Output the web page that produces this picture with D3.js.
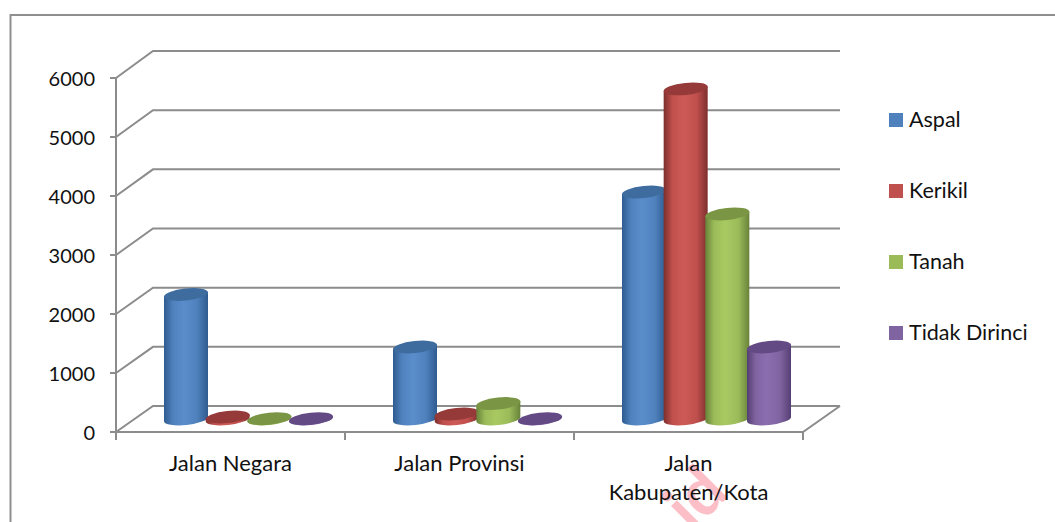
<!DOCTYPE html>
<html><head><meta charset="utf-8">
<script src="https://cdn.jsdelivr.net/npm/d3@7/dist/d3.min.js"></script>
<style>html,body{margin:0;padding:0;background:#fff}svg{display:block}text{font-family:Lato,"Open Sans",sans-serif;fill:#111}</style>
</head><body><svg id="c" width="1055" height="522"></svg>
<script>
const categories=[["Jalan Negara"],["Jalan Provinsi"],["Jalan","Kabupaten/Kota"]];
const categoryKeys=["Jalan Negara","Jalan Provinsi","Jalan Kabupaten/Kota"];
const seriesNames=["Aspal","Kerikil","Tanah","Tidak Dirinci"];
const aspal=[2116,1224,3858];
const kerikil=[34,85,5610];
const tanah=[5,263,3485];
const tidakDirinci=[5,5,1224];
const seriesValues=[aspal,kerikil,tanah,tidakDirinci];
const yTicks=[0,1000,2000,3000,4000,5000,6000];
const colors=[
 {main:"#4f81bd",light:"#5a8dcb",dark:"#2f5b8f",top:"#3f6c9f"},
 {main:"#c0504d",light:"#cd5a57",dark:"#7d2f2d",top:"#953a38"},
 {main:"#9bbb59",light:"#a8c962",dark:"#68833a",top:"#7a9645"},
 {main:"#8064a2",light:"#8b6eaf",dark:"#553f72",top:"#644a85"}];

const svg=d3.select("#c");
const axisColor="#8c8c8c";
const yFront=d3.scaleLinear().domain([0,6000]).range([432,78]);
const yBack=d3.scaleLinear().domain([0,6000]).range([406,51]);
const yBar=d3.scaleLinear().domain([0,6000]).range([419,66]);
const x=d3.scaleBand().domain(categoryKeys).range([116,803]);
const xs=d3.scalePoint().domain(seriesNames).range([-62.5,62.5]);
const depth={x:37,xBar:18};

// watermark
svg.append("text").attr("transform","translate(692,533) rotate(-45)").attr("font-size",66).attr("font-weight",700)
 .style("fill","#fcbfc8").text("id");

// frame
svg.append("path").attr("d","M10.5,522V15H1055").attr("fill","none").attr("stroke","#8f8f8f").attr("stroke-width",2);

// gradients
const defs=svg.append("defs");
colors.forEach((c,i)=>{
 const g=defs.append("linearGradient").attr("id","g"+i);
 [[0,c.dark],[.2,c.main],[.45,c.light],[.75,c.main],[1,c.dark]].forEach(s=>g.append("stop").attr("offset",s[0]).attr("stop-color",s[1]));
});

// back wall grid and side wall
const grid=svg.append("g").attr("fill","none").attr("stroke",axisColor).attr("stroke-width",2);
yTicks.forEach(v=>{
 grid.append("path").attr("d",`M${x.range()[0]},${yFront(v)}L${x.range()[0]+depth.x},${yBack(v)}H${x.range()[1]+depth.x}`);
 grid.append("path").attr("d",`M${x.range()[0]-6},${yFront(v)}H${x.range()[0]}`);
});
grid.append("path").attr("d",`M${x.range()[0]},${yFront(6000)}V${yFront(0)}H${x.range()[1]}L${x.range()[1]+depth.x},${yBack(0)}`);
[...categoryKeys.map(k=>x(k)),x.range()[1]].forEach(px=>grid.append("path").attr("d",`M${px},${yFront(0)}V440`));

// y labels
svg.append("g").selectAll("text").data(yTicks).join("text")
 .attr("x",95).attr("y",v=>yFront(v)+8).attr("text-anchor","end").attr("font-size",20).text(v=>v);

// category labels
categories.forEach((lines,i)=>{
 lines.forEach((t,j)=>svg.append("text").attr("x",x(categoryKeys[i])+x.bandwidth()/2).attr("y",471+j*29)
  .attr("text-anchor","middle").attr("font-size",22).text(t));
});

// cylinders
const rx=22,ry=6,tilt=-6,dy=2.3;
const bars=svg.append("g");
categoryKeys.forEach((k,ci)=>{
 seriesNames.forEach((s,si)=>{
  const cx=x(k)+x.bandwidth()/2+depth.xBar+xs(s), v=seriesValues[si][ci];
  const t=yBar(v), b=yBar(0);
  bars.append("path").attr("fill",`url(#g${si})`)
   .attr("d",`M${cx-rx},${t+dy}V${b+dy}A${rx},${ry} ${tilt} 0 0 ${cx+rx},${b-dy}V${t-dy}Z`);
  bars.append("ellipse").attr("fill",colors[si].top)
   .attr("transform",`translate(${cx},${t}) rotate(${tilt})`).attr("rx",rx+.2).attr("ry",ry);
 });
});

// legend
const legendY=d3.scalePoint().domain(seriesNames).range([120,333]);
const lg=svg.append("g");
seriesNames.forEach((s,i)=>{
 lg.append("rect").attr("x",889).attr("y",legendY(s)-7).attr("width",14).attr("height",14).attr("fill",colors[i].main);
 lg.append("text").attr("x",909).attr("y",legendY(s)+7).attr("font-size",21.5).text(s);
});
</script></body></html>
